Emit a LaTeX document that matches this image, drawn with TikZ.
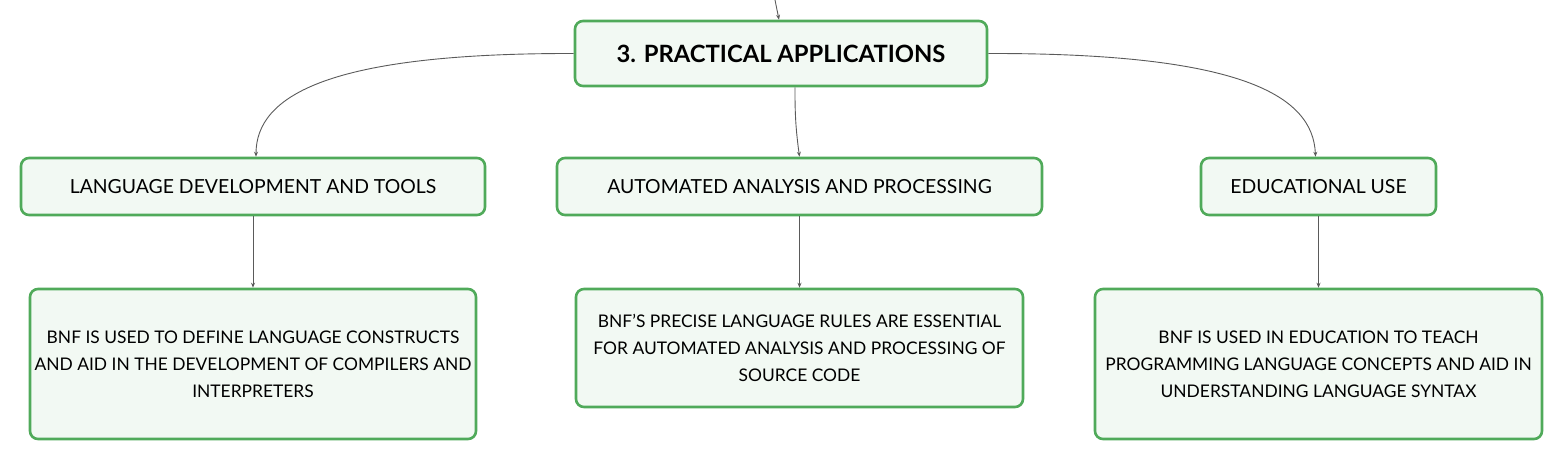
\documentclass[tikz,border=0pt]{standalone}
\usepackage{fontspec}
\setmainfont{Lato}
\usetikzlibrary{arrows.meta}
\definecolor{boxgreen}{RGB}{80,170,90}
\definecolor{boxfill}{RGB}{242,249,243}
\definecolor{linkgray}{RGB}{90,90,90}
\tikzset{
  topicbox/.style={draw=boxgreen, fill=boxfill, line width=2.6pt, rounded corners=8pt, inner sep=0pt, align=center},
  link/.style={draw=linkgray, line width=0.9pt, -{Stealth[length=5pt,width=4pt]}}
}
\begin{document}
\begin{tikzpicture}[x=1pt,y=-1pt]
\useasboundingbox (0,0) rectangle (1563,461);
\node[topicbox, minimum width=412pt, minimum height=65pt, font=\fontsize{23.8}{28}\selectfont\bfseries] (root) at (781,53.5) {3. PRACTICAL APPLICATIONS};
\node[topicbox, minimum width=464pt, minimum height=57pt, font=\fontsize{19.4}{23}\selectfont] (dev) at (253,186.5) {LANGUAGE DEVELOPMENT AND TOOLS};
\node[topicbox, minimum width=485pt, minimum height=57pt, font=\fontsize{19.4}{23}\selectfont] (auto) at (799.5,186.5) {AUTOMATED ANALYSIS AND PROCESSING};
\node[topicbox, minimum width=235pt, minimum height=57pt, font=\fontsize{19.4}{23}\selectfont] (edu) at (1318.5,186.5) {EDUCATIONAL USE};
\node[topicbox, minimum width=446pt, minimum height=150pt, font=\fontsize{17.4}{27}\selectfont] (devleaf) at (253,364) {BNF IS USED TO DEFINE LANGUAGE CONSTRUCTS\\AND AID IN THE DEVELOPMENT OF COMPILERS AND\\INTERPRETERS};
\node[topicbox, minimum width=447pt, minimum height=118pt, font=\fontsize{17.4}{27}\selectfont] (autoleaf) at (799.5,348) {BNF'S PRECISE LANGUAGE RULES ARE ESSENTIAL\\FOR AUTOMATED ANALYSIS AND PROCESSING OF\\SOURCE CODE};
\node[topicbox, minimum width=447pt, minimum height=150pt, font=\fontsize{17.4}{27}\selectfont] (eduleaf) at (1318.5,364) {BNF IS USED IN EDUCATION TO TEACH\\PROGRAMMING LANGUAGE CONCEPTS AND AID IN\\UNDERSTANDING LANGUAGE SYNTAX};
% connectors
\coordinate (above) at (775,0);
\draw[link] (above) -- ([xshift=-2pt]root.north);
\draw[link] (root.west) .. controls (330,53) and (256,95) .. ([xshift=3pt]dev.north);
\draw[link] (root.east) .. controls (1240,53) and (1313,95) .. ([xshift=-3pt]edu.north);
\draw[link] ([xshift=14pt]root.south) to[bend right=4] (auto.north);
\draw[link] (dev.south) -- (devleaf.north);
\draw[link] (auto.south) -- (autoleaf.north);
\draw[link] (edu.south) -- (eduleaf.north);
\end{tikzpicture}
\end{document}
